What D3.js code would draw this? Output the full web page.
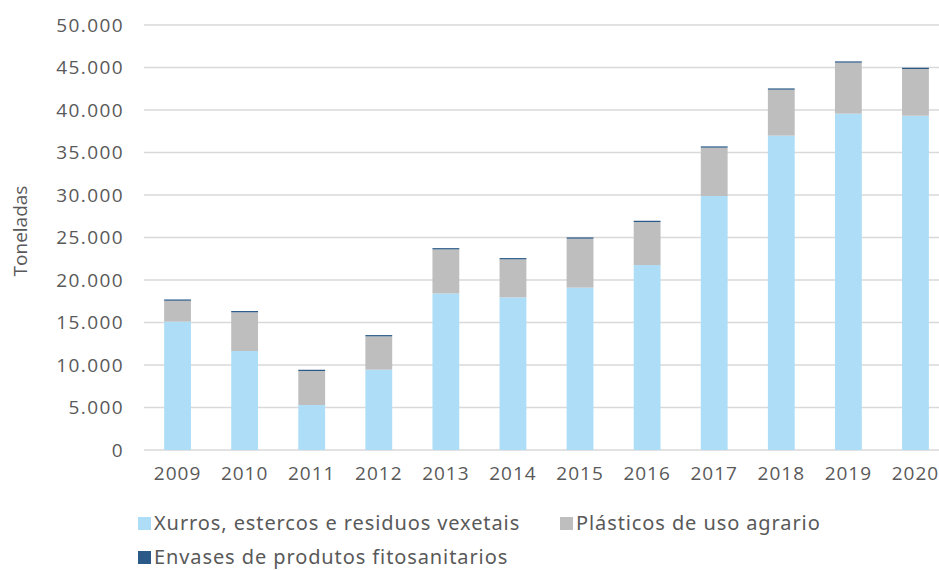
<!DOCTYPE html>
<html><head><meta charset="utf-8">
<script src="https://cdn.jsdelivr.net/npm/d3@7"></script>
<style>body{margin:0;background:#fff;}svg{display:block;}</style>
</head><body>
<svg id="c" width="939" height="570"></svg>
<script>
const years = ["2009","2010","2011","2012","2013","2014","2015","2016","2017","2018","2019","2020"];
const xurros = [15100, 11650, 5290, 9450, 18420, 17960, 19100, 21760, 29880, 36980, 39570, 39330];
const plasticos = [2460, 4550, 4000, 3920, 5180, 4470, 5760, 5060, 5690, 5410, 6000, 5490];
const envases = [150, 150, 150, 150, 150, 150, 150, 150, 150, 150, 150, 150];
const seriesNames = ["Xurros, estercos e residuos vexetais", "Plásticos de uso agrario", "Envases de produtos fitosanitarios"];
const seriesColors = ["#aedef7", "#bebebe", "#2b5a88"];
const yTicks = [0,5000,10000,15000,20000,25000,30000,35000,40000,45000,50000];

const svg = d3.select("#c");
const x = d3.scaleBand().domain(years).range([144, 949]).paddingInner(0.6).paddingOuter(0.3);
const y = d3.scaleLinear().domain([0, 50000]).range([450, 25]);
const fmt = v => d3.format(",")(v).replace(/,/g, ".");
const txt = "#595959";

// gridlines
svg.append("g").selectAll("line").data(yTicks).join("line")
  .attr("x1", 144).attr("x2", 939)
  .attr("y1", d => y(d)).attr("y2", d => y(d))
  .attr("stroke", "#d9d9d9").attr("stroke-width", 1.5);

// y labels
const yAxis = d3.axisLeft(y).tickValues(yTicks).tickFormat(fmt).tickSize(0).tickPadding(0);
const ya = svg.append("g").attr("transform", "translate(124,0)").call(yAxis);
ya.select(".domain").remove();
ya.selectAll("text").attr("fill", txt).attr("font-family", "Open Sans").attr("font-size", 19).attr("letter-spacing", 1.4);

// stacked data
const rows = years.map((yr, i) => ({year: yr, a: xurros[i], b: plasticos[i], c: envases[i]}));
const stack = d3.stack().keys(["a","b","c"])(rows);
svg.append("g").selectAll("g").data(stack).join("g")
  .attr("fill", (d, i) => seriesColors[i])
  .selectAll("rect").data(d => d).join("rect")
  .attr("x", d => x(d.data.year)).attr("width", x.bandwidth())
  .attr("y", d => y(d[1])).attr("height", d => y(d[0]) - y(d[1]));

// x labels
const xAxis = d3.axisBottom(x).tickSize(0).tickPadding(0);
const xa = svg.append("g").attr("transform", "translate(0,466)").call(xAxis);
xa.select(".domain").remove();
xa.selectAll("text").attr("fill", txt).attr("font-family", "Open Sans").attr("font-size", 19).attr("letter-spacing", 1);

// y title
svg.append("text").attr("transform", "translate(27,231) rotate(-90)")
  .attr("text-anchor", "middle").attr("fill", txt)
  .attr("font-family", "Open Sans").attr("font-size", 19).text("Toneladas");

// legend
const leg = [{x:138, y:530}, {x:560, y:530}, {x:138, y:564}];
const lg = svg.append("g").selectAll("g").data(seriesNames).join("g")
  .attr("transform", (d, i) => `translate(${leg[i].x},${leg[i].y})`);
lg.append("rect").attr("x", 0).attr("y", -13).attr("width", 13).attr("height", 13)
  .attr("fill", (d, i) => seriesColors[i]);
lg.append("text").attr("x", 16).attr("y", 0)
  .attr("fill", txt).attr("font-family", "Noto Sans").attr("font-size", 20).attr("letter-spacing", 0.9).text(d => d);
</script>
</body></html>
